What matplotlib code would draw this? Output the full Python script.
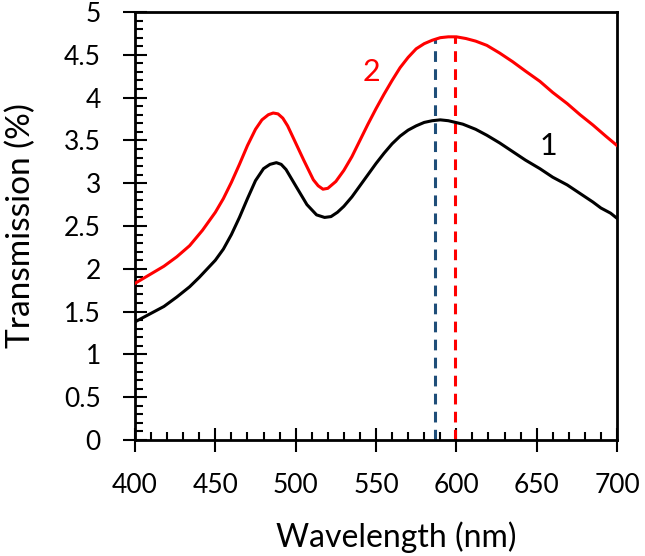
import matplotlib
matplotlib.use("Agg")
import matplotlib.pyplot as plt
from matplotlib.ticker import MultipleLocator, FuncFormatter

plt.rcParams['font.family'] = ['Lato', 'DejaVu Sans']

# --- data ---
wl1 = [400, 410, 418, 426, 434, 440, 450, 455, 460, 465, 470, 475, 480, 484, 488, 491, 494, 500,
       507, 513, 518, 522, 526, 530, 535, 540, 545, 550, 555, 560, 565, 570, 575, 580, 585, 590,
       595, 604, 612, 619, 627, 635, 643, 652, 660, 669, 677, 685, 690, 696, 700]
t1 = [1.38, 1.48, 1.56, 1.67, 1.79, 1.90, 2.10, 2.23, 2.40, 2.60, 2.82, 3.03, 3.17, 3.22, 3.24, 3.22, 3.16, 2.97,
      2.75, 2.63, 2.60, 2.61, 2.66, 2.73, 2.84, 2.97, 3.10, 3.23, 3.35, 3.46, 3.55, 3.62, 3.67, 3.71, 3.73, 3.74,
      3.73, 3.69, 3.63, 3.56, 3.47, 3.37, 3.27, 3.17, 3.07, 2.98, 2.88, 2.78, 2.71, 2.65, 2.59]
wl2 = [400, 409, 418, 426, 434, 442, 450, 455, 460, 465, 470, 475, 479, 483, 486, 489, 492, 495, 498,
       505, 511, 514, 517, 520, 525, 530, 535, 540, 545, 550, 555, 560, 565, 570, 575, 580, 585, 590,
       595, 600, 606, 612, 619, 627, 635, 643, 652, 660, 669, 677, 685, 693, 700]
t2 = [1.83, 1.93, 2.03, 2.14, 2.27, 2.45, 2.66, 2.82, 3.01, 3.22, 3.44, 3.63, 3.74, 3.80, 3.82, 3.81, 3.76, 3.67, 3.55,
      3.27, 3.04, 2.97, 2.93, 2.94, 3.02, 3.15, 3.31, 3.50, 3.69, 3.87, 4.04, 4.20, 4.35, 4.47, 4.57, 4.63, 4.67, 4.70,
      4.71, 4.71, 4.69, 4.66, 4.61, 4.52, 4.42, 4.31, 4.19, 4.06, 3.93, 3.80, 3.68, 3.55, 3.44]
peak_wl = [587, 599]
peak_top = [4.70, 4.71]
peak_colors = ['#1F4E79', '#FF0000']
labels = ['1', '2']
label_pos = [(657, 3.43), (547, 4.30)]
label_colors = ['#000000', '#FF0000']

fig = plt.figure(figsize=(6.45, 5.56), dpi=100)
ax = fig.add_axes([135/645, 1 - 440/556, 482/645, 428/556])

for x, top, c in zip(peak_wl, peak_top, peak_colors):
    ax.plot([x, x], [0, top], color=c, lw=2.2, dashes=(3.5, 2.4), zorder=2)
ax.plot(wl1, t1, color='black', lw=2.2, zorder=3, solid_joinstyle='round')
ax.plot(wl2, t2, color='#FF0000', lw=2.2, zorder=3, solid_joinstyle='round')

for lab, (x, y), c in zip(labels, label_pos, label_colors):
    ax.text(x, y, lab, color=c, fontsize=22, ha='center', va='center')

ax.set_xlim(400, 700)
ax.set_ylim(0, 5)
ax.xaxis.set_major_locator(MultipleLocator(50))
ax.xaxis.set_minor_locator(MultipleLocator(10))
ax.yaxis.set_major_locator(MultipleLocator(0.5))
ax.yaxis.set_minor_locator(MultipleLocator(0.1))
ax.yaxis.set_major_formatter(FuncFormatter(lambda v, p: f"{v:g}"))

for s in ax.spines.values():
    s.set_linewidth(2.0)
ax.tick_params(which='major', direction='inout', length=17, width=1.5, labelsize=19)
ax.tick_params(which='minor', direction='in', length=6, width=1.5)
ax.tick_params(axis='both', which='both', top=False, right=False)
ax.tick_params(axis='x', which='major', pad=15)
ax.tick_params(axis='y', which='major', pad=16)

ax.set_xlabel('Wavelength (nm)', fontsize=23)
ax.set_ylabel('Transmission (%)', fontsize=24)
ax.xaxis.set_label_coords(0.5415, -0.19)
ax.yaxis.set_label_coords(-0.205, 0.5)

fig.savefig('out.png', dpi=100)
